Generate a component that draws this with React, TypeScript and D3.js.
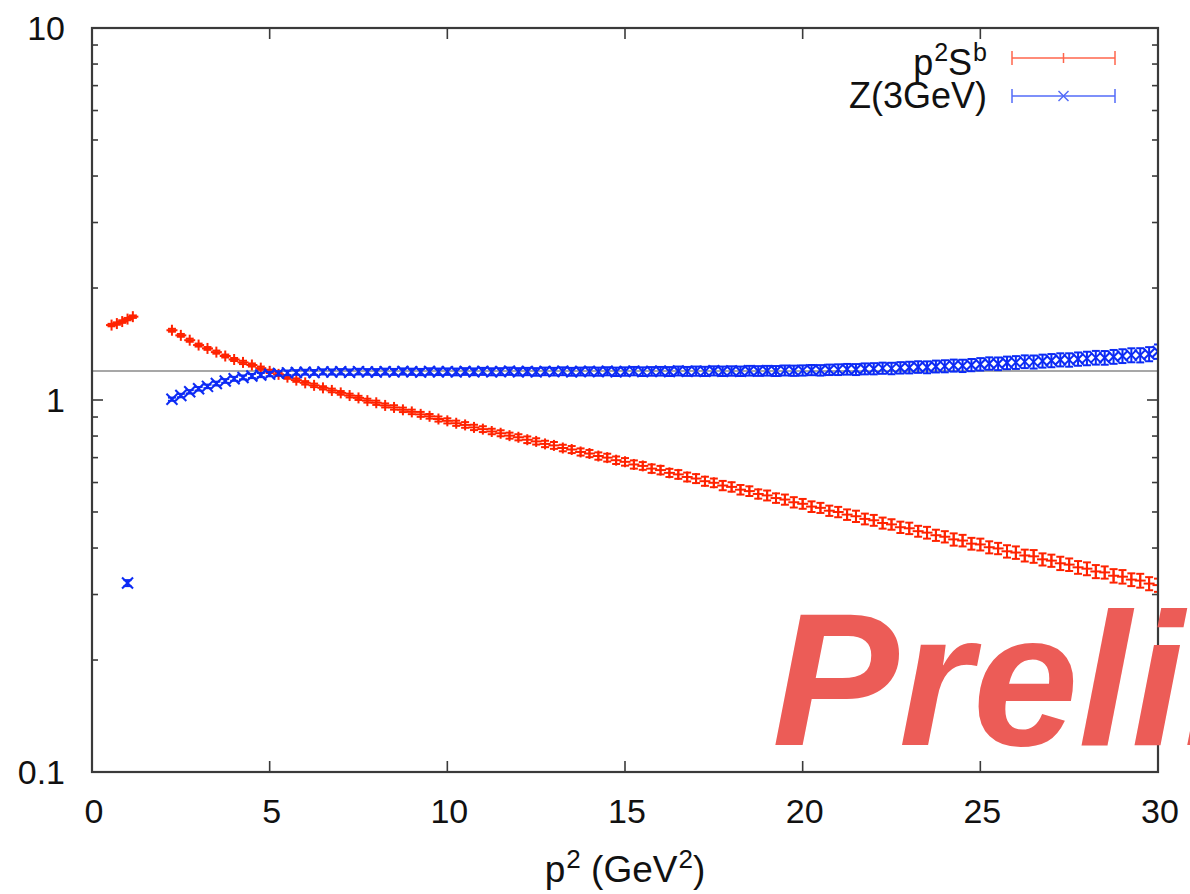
import React from "react";
import * as d3 from "d3";

// ---- data ----
const P2_LOW_RED = [0.55, 0.7, 0.85, 1.0, 1.15];
const SB_LOW = [1.59, 1.605, 1.625, 1.65, 1.675];
const SB_LOW_ERR = [0.012, 0.012, 0.013, 0.012, 0.013];

const P2_LOW_BLUE = [1.0];
const Z_LOW = [0.322];
const Z_LOW_ERR = [0.006];

const P2 = [
  2.25, 2.5, 2.75, 3, 3.25, 3.5, 3.75, 4, 4.25, 4.5, 4.75, 5, 5.25, 5.5, 5.75,
  6, 6.25, 6.5, 6.75, 7, 7.25, 7.5, 7.75, 8, 8.25, 8.5, 8.75, 9, 9.25, 9.5, 9.75,
  10, 10.25, 10.5, 10.75, 11, 11.25, 11.5, 11.75, 12, 12.25, 12.5, 12.75,
  13, 13.25, 13.5, 13.75, 14, 14.25, 14.5, 14.75, 15, 15.25, 15.5, 15.75,
  16, 16.25, 16.5, 16.75, 17, 17.25, 17.5, 17.75, 18, 18.25, 18.5, 18.75,
  19, 19.25, 19.5, 19.75, 20, 20.25, 20.5, 20.75, 21, 21.25, 21.5, 21.75,
  22, 22.25, 22.5, 22.75, 23, 23.25, 23.5, 23.75, 24, 24.25, 24.5, 24.75,
  25, 25.25, 25.5, 25.75, 26, 26.25, 26.5, 26.75, 27, 27.25, 27.5, 27.75,
  28, 28.25, 28.5, 28.75, 29, 29.25, 29.5, 29.75, 30,
];

const SB = [
  1.54, 1.492, 1.448, 1.405, 1.376, 1.345, 1.313, 1.285, 1.262, 1.242, 1.218, 1.194, 1.172, 1.152, 1.131,
  1.112, 1.095, 1.078, 1.061,
  1.045, 1.028, 1.013, 0.996,
  0.983, 0.967, 0.955, 0.941,
  0.929, 0.915, 0.904, 0.889,
  0.879, 0.866, 0.857, 0.844,
  0.835, 0.823, 0.814, 0.802,
  0.794, 0.782, 0.774, 0.762,
  0.755, 0.743, 0.736, 0.725,
  0.718, 0.707, 0.7, 0.689,
  0.682, 0.671, 0.665, 0.654,
  0.648, 0.637, 0.631, 0.621,
  0.615, 0.605, 0.599, 0.589,
  0.584, 0.574, 0.569, 0.559,
  0.554, 0.545, 0.54, 0.531,
  0.526, 0.517, 0.513, 0.504,
  0.5, 0.492, 0.487, 0.479,
  0.475, 0.467, 0.463, 0.455,
  0.452, 0.444, 0.44, 0.433,
  0.429, 0.422, 0.419, 0.411,
  0.409, 0.402, 0.399, 0.392,
  0.389, 0.382, 0.38, 0.373,
  0.37, 0.364, 0.361, 0.355,
  0.352, 0.346, 0.344, 0.337,
  0.335, 0.329, 0.327, 0.321,
  0.318,
];

const SB_ERR = [
  0.014, 0.013, 0.014,
  0.013, 0.012, 0.013, 0.012,
  0.012, 0.013, 0.012, 0.012,
  0.012, 0.011, 0.012, 0.012,
  0.012, 0.012, 0.011, 0.012,
  0.012, 0.012, 0.013, 0.012,
  0.013, 0.012, 0.013, 0.013,
  0.013, 0.014, 0.013, 0.014,
  0.014, 0.014, 0.015, 0.014,
  0.015, 0.014, 0.015, 0.015,
  0.015, 0.016, 0.015, 0.015,
  0.016, 0.015, 0.016, 0.016,
  0.016, 0.016, 0.017, 0.016,
  0.016, 0.017, 0.016, 0.017,
  0.017, 0.016, 0.017, 0.017,
  0.017, 0.017, 0.016, 0.017,
  0.017, 0.017, 0.017, 0.016,
  0.017, 0.016, 0.017, 0.017,
  0.016, 0.017, 0.016, 0.016,
  0.016, 0.016, 0.017, 0.016,
  0.016, 0.016, 0.015, 0.016,
  0.016, 0.015, 0.016, 0.015,
  0.015, 0.016, 0.015, 0.015,
  0.015, 0.015, 0.014, 0.015,
  0.015, 0.014, 0.015, 0.014,
  0.014, 0.015, 0.014, 0.014,
  0.014, 0.014, 0.013, 0.014,
  0.014, 0.013, 0.014, 0.013,
  0.013,
];

const Z3 = [
  1.005, 1.028, 1.052, 1.072, 1.088, 1.107, 1.125, 1.14, 1.15, 1.16, 1.167, 1.174, 1.179, 1.183, 1.186,
  1.188, 1.186, 1.19, 1.189,
  1.191, 1.188, 1.192, 1.19,
  1.189, 1.192, 1.19, 1.193,
  1.191, 1.189, 1.193, 1.191,
  1.192, 1.19, 1.193, 1.191,
  1.194, 1.191, 1.192, 1.195,
  1.191, 1.193, 1.19, 1.194,
  1.192, 1.195, 1.191, 1.193,
  1.194, 1.192, 1.195, 1.191,
  1.193, 1.196, 1.192, 1.194,
  1.195, 1.193, 1.197, 1.194,
  1.196, 1.194, 1.198, 1.195,
  1.197, 1.195, 1.199, 1.197,
  1.199, 1.197, 1.201, 1.199,
  1.201, 1.204, 1.202, 1.206,
  1.207, 1.21, 1.208, 1.213,
  1.214, 1.218, 1.216, 1.221,
  1.223, 1.227, 1.225, 1.231,
  1.233, 1.238, 1.236, 1.242,
  1.248, 1.254, 1.252, 1.259,
  1.262, 1.268, 1.266, 1.273,
  1.277, 1.283, 1.282, 1.289,
  1.294, 1.3, 1.299, 1.307,
  1.313, 1.32, 1.32, 1.329,
  1.35,
];

const Z3_ERR = [
  0.01, 0.011, 0.011,
  0.012, 0.012, 0.013, 0.013,
  0.014, 0.014, 0.015, 0.015,
  0.016, 0.016, 0.017, 0.017,
  0.018, 0.018, 0.019, 0.019,
  0.02, 0.02, 0.021, 0.021,
  0.022, 0.022, 0.022, 0.023,
  0.023, 0.023, 0.024, 0.024,
  0.024, 0.025, 0.025, 0.025,
  0.026, 0.026, 0.026, 0.027,
  0.027, 0.027, 0.028, 0.028,
  0.028, 0.029, 0.029, 0.029,
  0.03, 0.03, 0.03, 0.031,
  0.031, 0.031, 0.032, 0.032,
  0.032, 0.033, 0.033, 0.033,
  0.034, 0.034, 0.034, 0.035,
  0.035, 0.035, 0.036, 0.036,
  0.036, 0.037, 0.037, 0.038,
  0.038, 0.038, 0.039, 0.039,
  0.04, 0.04, 0.041, 0.041,
  0.042, 0.042, 0.043, 0.043,
  0.044, 0.044, 0.045, 0.045,
  0.046, 0.046, 0.047, 0.047,
  0.048, 0.048, 0.049, 0.049,
  0.05, 0.05, 0.051, 0.051,
  0.052, 0.052, 0.053, 0.053,
  0.054, 0.055, 0.055, 0.056,
  0.056, 0.057, 0.058, 0.058,
  0.06,
];

const REF_LEVEL = 1.197;
const X_TICKS = [0, 5, 10, 15, 20, 25, 30];
const Y_TICKS = [0.1, 1, 10];
const Y_TICK_LABELS = ["0.1", "1", "10"];
const WATERMARK = "Preliminary";

// ---- layout ----
const W = 1190;
const H = 894;
const M = { left: 92, right: 1158, top: 28, bottom: 772 };
const FONT = "'Liberation Sans', Arial, Helvetica, sans-serif";
const RED = "#ff2400";
const BLUE = "#0a2cf5";

const x = d3.scaleLinear().domain([0, 30]).range([M.left, M.right]);
const y = d3.scaleLog().domain([0.1, 10]).range([M.bottom, M.top]);

type Pt = { px: number; v: number; e: number };
const zip = (xs: number[], vs: number[], es: number[]): Pt[] =>
  xs.map((px, i) => ({ px, v: vs[i], e: es[i] }));

function ErrPoint({ p, color, kind }: { p: Pt; color: string; kind: "plus" | "cross" }) {
  const cx = x(p.px);
  const cy = y(p.v);
  const y1 = y(p.v + p.e);
  const y2 = y(p.v - p.e);
  const cap = 4;
  const s = 5.5;
  return (
    <g stroke={color} strokeWidth={2} fill="none">
      <line x1={cx} x2={cx} y1={y1} y2={y2} />
      <line x1={cx - cap} x2={cx + cap} y1={y1} y2={y1} />
      <line x1={cx - cap} x2={cx + cap} y1={y2} y2={y2} />
      {kind === "plus" ? (
        <>
          <line x1={cx - s} x2={cx + s} y1={cy} y2={cy} />
          <line x1={cx} x2={cx} y1={cy - s} y2={cy + s} />
        </>
      ) : (
        <>
          <line x1={cx - s} x2={cx + s} y1={cy - s} y2={cy + s} />
          <line x1={cx - s} x2={cx + s} y1={cy + s} y2={cy - s} />
        </>
      )}
    </g>
  );
}

function LegendRow({ yy, color, kind }: { yy: number; color: string; kind: "plus" | "cross" }) {
  const x1 = 1012;
  const x2 = 1115;
  const xm = (x1 + x2) / 2;
  const s = 5;
  return (
    <g stroke={color} strokeWidth={1.5} fill="none" opacity={0.7}>
      <line x1={x1} x2={x2} y1={yy} y2={yy} />
      <line x1={x1} x2={x1} y1={yy - 7} y2={yy + 7} />
      <line x1={x2} x2={x2} y1={yy - 7} y2={yy + 7} />
      {kind === "plus" ? (
        <line x1={xm} x2={xm} y1={yy - s} y2={yy + s} />
      ) : (
        <>
          <line x1={xm - s} x2={xm + s} y1={yy - s} y2={yy + s} />
          <line x1={xm - s} x2={xm + s} y1={yy + s} y2={yy - s} />
        </>
      )}
    </g>
  );
}

export default function App() {
  const red = [...zip(P2_LOW_RED, SB_LOW, SB_LOW_ERR), ...zip(P2, SB, SB_ERR)];
  const blue = [...zip(P2_LOW_BLUE, Z_LOW, Z_LOW_ERR), ...zip(P2, Z3, Z3_ERR)];

  const minor: number[] = [];
  for (const dec of [0.1, 1]) for (let k = 2; k <= 9; k++) minor.push(dec * k);

  const axisColor = "#3a3a3a";
  return (
    <svg
      width={W}
      height={H}
      style={{ position: "absolute", left: 0, top: 0, background: "#fff" }}
      fontFamily={FONT}
    >
      <rect width={W} height={H} fill="#fff" />
      <defs>
        <clipPath id="plot">
          <rect x={M.left} y={M.top} width={M.right - M.left} height={M.bottom - M.top} />
        </clipPath>
        <filter id="soft" x="-5%" y="-5%" width="110%" height="110%">
          <feGaussianBlur stdDeviation={0.7} />
        </filter>
      </defs>

      {/* reference level */}
      <line x1={M.left} x2={M.right} y1={y(REF_LEVEL)} y2={y(REF_LEVEL)} stroke="#8a8a8a" strokeWidth={1.6} />

      {/* ticks */}
      <g stroke={axisColor} strokeWidth={1.6}>
        {Y_TICKS.map((t) => (
          <g key={"yt" + t}>
            <line x1={M.left} x2={M.left + 11} y1={y(t)} y2={y(t)} />
            <line x1={M.right} x2={M.right - 11} y1={y(t)} y2={y(t)} />
          </g>
        ))}
        {minor.map((t) => (
          <g key={"ym" + t}>
            <line x1={M.left} x2={M.left + 6} y1={y(t)} y2={y(t)} />
            <line x1={M.right} x2={M.right - 6} y1={y(t)} y2={y(t)} />
          </g>
        ))}
        {X_TICKS.slice(1, -1).map((t) => (
          <g key={"xt" + t}>
            <line x1={x(t)} x2={x(t)} y1={M.bottom} y2={M.bottom - 11} />
            <line x1={x(t)} x2={x(t)} y1={M.top} y2={M.top + 11} />
          </g>
        ))}
      </g>

      {/* data */}
      <g clipPath="url(#plot)">
        <g filter="url(#soft)">
          {red.map((p, i) => (
            <ErrPoint key={"r" + i} p={p} color={RED} kind="plus" />
          ))}
          {blue.map((p, i) => (
            <ErrPoint key={"b" + i} p={p} color={BLUE} kind="cross" />
          ))}
        </g>
      </g>

      {/* frame */}
      <rect
        x={M.left}
        y={M.top}
        width={M.right - M.left}
        height={M.bottom - M.top}
        fill="none"
        stroke={axisColor}
        strokeWidth={2.2}
      />

      {/* tick labels */}
      <g fontSize={34} fill="#111">
        {Y_TICKS.map((t, i) => (
          <text key={"yl" + t} x={65} y={y(t)} textAnchor="end" dominantBaseline="central">
            {Y_TICK_LABELS[i]}
          </text>
        ))}
        {X_TICKS.map((t) => (
          <text key={"xl" + t} x={x(t) + 2} y={811} textAnchor="middle" dominantBaseline="central">
            {t}
          </text>
        ))}
      </g>

      {/* x-axis title */}
      <text x={(M.left + M.right) / 2} y={882} textAnchor="middle" fontSize={37} fill="#111">
        p<tspan dy={-14} dx={1} fontSize={26}>2</tspan>
        <tspan dy={14}> (GeV</tspan>
        <tspan dy={-14} dx={1} fontSize={26}>2</tspan>
        <tspan dy={14}>)</tspan>
      </text>

      {/* legend */}
      <g fontSize={36} fill="#111">
        <text x={987} y={75} textAnchor="end">
          p<tspan dy={-14} dx={1} fontSize={25}>2</tspan>
          <tspan dy={14}>S</tspan>
          <tspan dy={-14} dx={1} fontSize={25}>b</tspan>
        </text>
        <text x={987} y={108} textAnchor="end">
          Z(3GeV)
        </text>
      </g>
      <LegendRow yy={58} color={RED} kind="plus" />
      <LegendRow yy={96} color={BLUE} kind="cross" />

      {/* watermark */}
      <text
        x={772}
        y={745}
        fontSize={190}
        fontWeight="bold"
        fontStyle="italic"
        fill="#ec5c57"
        fontFamily="'Liberation Sans', Arial, sans-serif"
      >
        {WATERMARK}
      </text>
    </svg>
  );
}
